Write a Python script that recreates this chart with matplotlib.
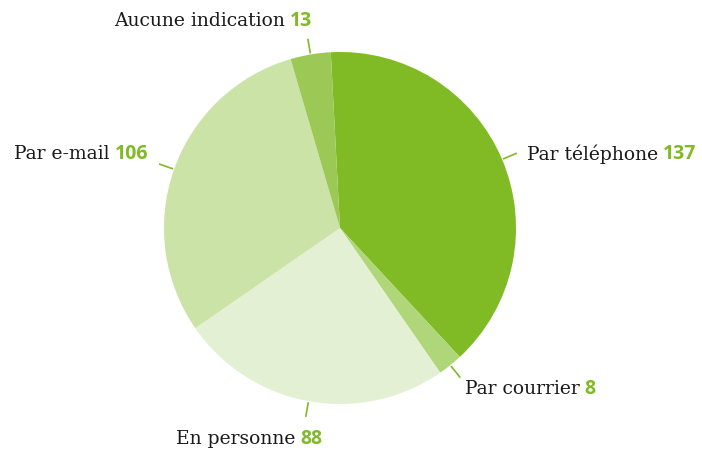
import numpy as np
import matplotlib
matplotlib.use("Agg")
import matplotlib.pyplot as plt

labels = ["Par téléphone", "Par courrier", "En personne", "Par e-mail", "Aucune indication"]
values = [137, 8, 88, 106, 13]
colors = ["#80BA24", "#B0D67A", "#E4F0D4", "#CCE3A8", "#9CC955"]
num_color = "#80BA24"

W, H = 702, 453
fig = plt.figure(figsize=(W / 100, H / 100), dpi=100)
ax = fig.add_axes([0, 0, 1, 1])

cx, cy, R = 340, 228, 176
start = 93.0
wedges, _ = ax.pie(values, colors=colors, startangle=-start, counterclock=True,
                   center=(cx, cy), radius=R, frame=True,
                   wedgeprops=dict(linewidth=0))
ax.set_xlim(0, W)
ax.set_ylim(H, 0)
ax.set_aspect("equal")
ax.axis("off")

# label placement: (anchor x, anchor y, ha)
label_pos = [
    (527, 154, "left"),
    (465, 389, "left"),
    (176, 439, "left"),
    (148, 154, "right"),
    (312, 21, "right"),
]
fs = 13.5
serif = ["DejaVu Serif"]
fig.canvas.draw()
renderer = fig.canvas.get_renderer()

for w, lab, val, (x, y, ha) in zip(wedges, labels, values, label_pos):
    mid = np.deg2rad((w.theta1 + w.theta2) / 2)
    x0, y0 = cx + 177 * np.cos(mid), cy + 177 * np.sin(mid)
    x1, y1 = cx + 192 * np.cos(mid), cy + 192 * np.sin(mid)
    ax.plot([x0, x1], [y0, y1], color=num_color, lw=1.2, solid_capstyle="butt")
    t1 = ax.text(0, 0, lab, fontsize=fs, family=serif, color="#1a1a1a", va="center")
    t2 = ax.text(0, 0, str(val), fontsize=fs + 0.5, family=["Open Sans"], weight="bold",
                 color=num_color, va="center")
    b1 = t1.get_window_extent(renderer)
    b2 = t2.get_window_extent(renderer)
    gap = 5
    w1 = b1.width * 100 / fig.dpi
    w2 = b2.width * 100 / fig.dpi
    left = x if ha == "left" else x - (w1 + gap + w2)
    t1.set_position((left, y))
    t2.set_position((left + w1 + gap, y))

fig.savefig("out.png", dpi=100)
